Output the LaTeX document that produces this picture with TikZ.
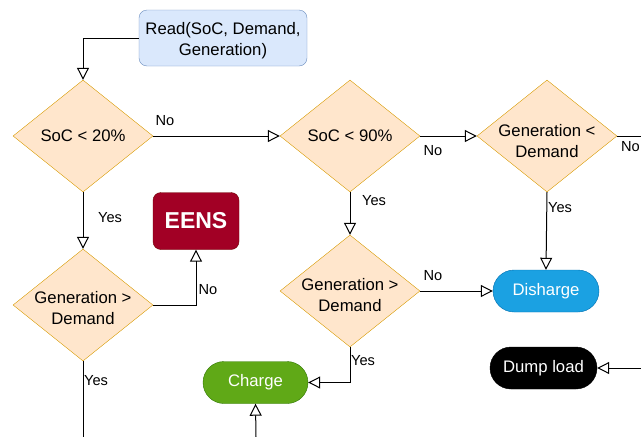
\documentclass[tikz,border=0pt]{standalone}
\usepackage{fontspec}
\setmainfont{Liberation Sans}
\usetikzlibrary{shapes.geometric,arrows.meta}
\definecolor{decfill}{HTML}{FFE6CC}
\definecolor{decline}{HTML}{D79B00}
\definecolor{readfill}{HTML}{DAE8FC}
\definecolor{readline}{HTML}{6C8EBF}
\definecolor{chgfill}{HTML}{60A917}
\definecolor{chgline}{HTML}{2D7600}
\definecolor{disfill}{HTML}{1BA1E2}
\definecolor{disline}{HTML}{006EAF}
\definecolor{eensfill}{HTML}{A20025}
\definecolor{eensline}{HTML}{6F0000}
\tikzset{
  txt/.style={font=\fontsize{16.7}{20.5}\selectfont, align=center},
  decision/.style={txt, diamond, draw=decline, fill=decfill, aspect=1.25, inner xsep=-12pt,
    inner ysep=0, minimum width=140pt, minimum height=112pt},
  pill/.style={txt, draw=#1line, fill=#1fill, text=white, rounded corners=21pt,
    minimum width=106pt, minimum height=42pt, inner sep=0},
  arr/.style={draw, line width=1pt, -{Triangle[open, length=12pt, width=12pt]}},
  lbl/.style={font=\fontsize{14.6}{17}\selectfont, inner sep=0},
}
% first argument: height of a strut on the first line, pushes the text down
\newcommand{\decide}[5][12pt]{
  \node[decision] (#2) at (#3, #4) {\rule{0pt}{#1}#5};
}

\begin{document}
\begin{tikzpicture}[x=1pt, y=-1pt]
      \useasboundingbox (0,0) rectangle (641,437);

      \node[txt, draw=readline, fill=readfill, rounded corners=8pt, minimum width=168pt,
        minimum height=56pt, inner sep=0] (read) at (223, 38) {\rule{0pt}{17pt}Read(SoC, Demand,\\Generation)};

      \decide{soc20}{83}{136}{SoC < 20\%}
      \decide{soc90}{350}{136}{SoC < 90\%}
      \decide[22pt]{genlt}{547}{136}{Generation <\\Demand}
      \decide[18pt]{gengtA}{83}{305}{Generation >\\Demand}
      \decide[20pt]{gengtB}{350}{291}{Generation >\\Demand}

      \node[pill=dis] (dis) at (546, 291) {Disharge};
      \node[pill=chg, minimum width=105pt] (charge) at (255.5, 382.5) {Charge};
      \node[txt, draw=black, fill=black, text=white, rounded corners=21pt, minimum width=107pt,
        minimum height=42pt, inner sep=0] (dump) at (543.5, 368) {Dump load};
      \node[draw=eensline, fill=eensfill, text=white, rounded corners=8pt, minimum width=86pt,
        minimum height=57pt, inner sep=0, font=\fontsize{23}{26}\selectfont\bfseries] (eens) at (196, 221) {EENS};

      \coordinate (outA) at (83, 437);
      \coordinate (outB) at (641, 136);
      \coordinate (outC) at (256, 437);
      \coordinate (outD) at (641, 368);

      \draw[arr] (read.west) -| (soc20.north);
      \draw[arr] (soc20.east) -- (soc90.west);
      \draw[arr] (soc20.south) -- (gengtA.north);
      \draw[arr] (gengtA.east) -| (eens.south);
      \draw[line width=1pt] (gengtA.south) -- (outA);
      \draw[arr] (soc90.east) -- (genlt.west);
      \draw[line width=1pt] (genlt.east) -- (outB);
      \draw[arr] (soc90.south) -- (gengtB.north);
      \draw[arr] (genlt.south) -- (dis.north);
      \draw[arr] (gengtB.east) -- (dis.west);
      \draw[arr] (gengtB.south) |- (charge.east);
      \draw[arr] (outC) -- (charge.south);
      \draw[arr] (outD) -- (dump.east);

      % branch labels
      \node[lbl] (no1) at (165, 121) {No};
      \node[lbl] (no2) at (433, 151) {No};
      \node[lbl, anchor=west] (no3) at (621, 147) {No};
      \node[lbl] (no4) at (208, 290) {No};
      \node[lbl] (no5) at (433, 276) {No};
      \node[lbl] (yes1) at (110, 218) {Yes};
      \node[lbl] (yes2) at (374, 201) {Yes};
      \node[lbl, anchor=west] (yes3) at (548, 208) {Yes};
      \node[lbl, anchor=west] (yes4) at (351, 361) {Yes};
      \node[lbl, anchor=west] (yes5) at (84, 381) {Yes};
\end{tikzpicture}
\end{document}
